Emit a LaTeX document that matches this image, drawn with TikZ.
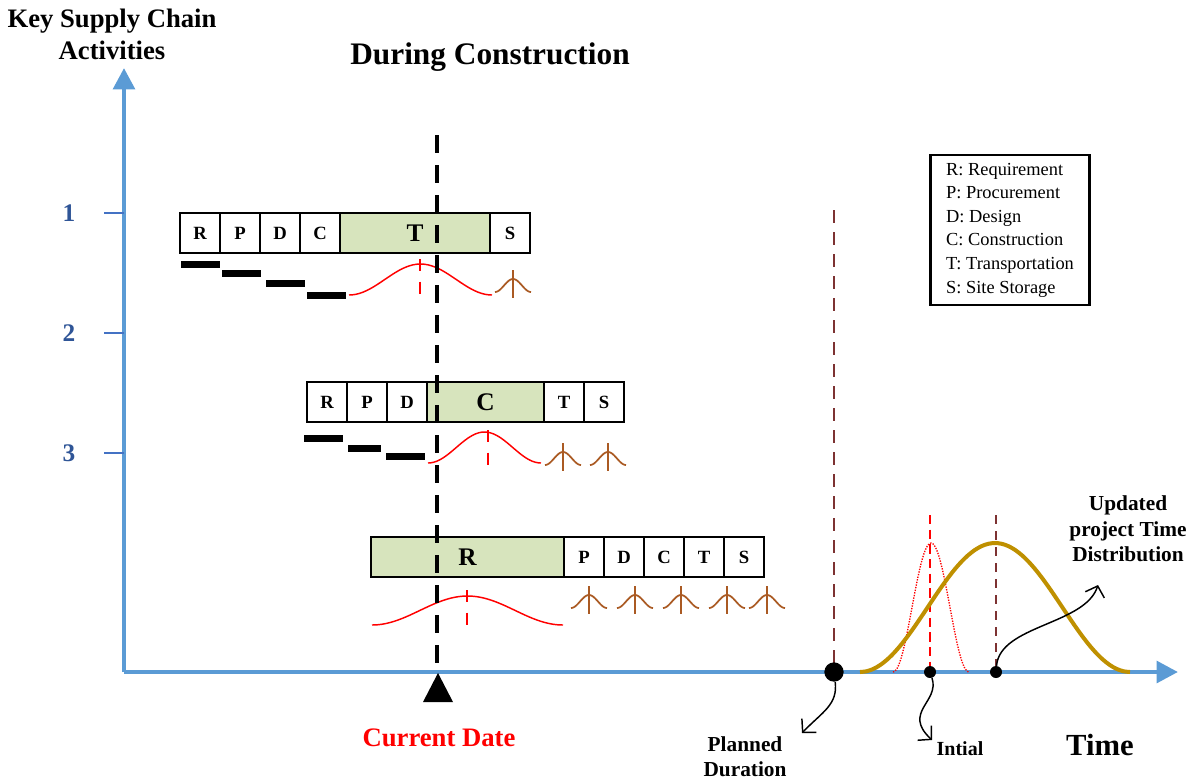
\documentclass[tikz,border=0pt]{standalone}
\usepackage{fontspec}
\setmainfont{Liberation Serif}
\usepackage{tikz}
\usetikzlibrary{positioning,arrows.meta}
\definecolor{axisblue}{RGB}{91,155,213}
\definecolor{tickblue}{RGB}{68,114,196}
\definecolor{numblue}{RGB}{47,85,151}
\definecolor{phasegreen}{RGB}{215,228,189}
\definecolor{hatbrown}{RGB}{170,90,35}
\definecolor{planbrown}{RGB}{125,50,50}
\definecolor{gold}{RGB}{191,144,0}
\tikzset{
  cell/.style     = {shape=rectangle, draw, line width=1.1pt,
                     minimum width=30pt, minimum height=30pt,
                     inner sep=0pt, outer sep=0pt,
                     font=\bfseries\fontsize{14}{16}\selectfont},
  phase/.style    = {cell, fill=phasegreen,
                     font=\bfseries\fontsize{19}{21}\selectfont},
  axis/.style     = {draw=axisblue, line width=3.5pt,
                     -{Triangle[length=16pt,width=16pt]}},
  tick/.style     = {draw=tickblue, line width=1.2pt},
  level/.style    = {text=numblue, font=\bfseries\fontsize{19}{21}\selectfont},
  redbell/.style  = {draw=red, line width=1.1pt},
  reddash/.style  = {draw=red, line width=1.2pt, dash pattern=on 9pt off 8pt},
  hatline/.style  = {draw=hatbrown, line width=1.3pt},
  nowline/.style  = {draw=black, line width=2.6pt, dash pattern=on 13.5pt off 9pt},
  plandash/.style = {draw=planbrown, line width=1.5pt, dash pattern=on 9.5pt off 7pt},
  dot/.style      = {shape=circle, fill=black, inner sep=0pt, minimum size=9pt},
  bigdot/.style   = {dot, minimum size=14.5pt},
  curvy/.style    = {draw, line width=1.1pt, -{Straight Barb[length=7pt,width=15pt]}},
  label/.style    = {align=center, font=\bfseries\fontsize{16}{19}\selectfont},
}
% bell shaped curve: left x, right x, base y, height
\newcommand{\bellplot}[4]{plot[smooth,domain=-180:180,samples=41]
  ({(#1)+((#2)-(#1))*((\x+180)/360)},{(#3)-(#4)*((1+cos(\x))/2)})}
% small brown hat with its centre line
\newcommand{\sbell}[2]{%
  \draw[hatline] \bellplot{#1-18}{#1+18}{#2}{13};
  \draw[hatline] (#1,#2-22) -- (#1,#2+6);}

\begin{document}
\begin{tikzpicture}
  [
    x = 0.75pt, y = -0.75pt,
    every node/.style = {font=\bfseries},
  ]
  \useasboundingbox (0,0) rectangle (1199,783);

  % titles
  \node [align=center, font=\bfseries\fontsize{20}{24}\selectfont] (ytitle) at (112,34)
    {Key Supply Chain\\Activities};
  \node [font=\bfseries\fontsize{23.5}{26}\selectfont] (title) at (490,57) {During Construction};

  % axes
  \coordinate (O) at (124,672);
  \coordinate (ytip) at (124,68);
  \coordinate (xtip) at (1178,672);
  \draw [axis] (O) -- (ytip);
  \draw [axis] (O) -- (xtip);
  \draw [tick] (104,213) -- (124,213);
  \draw [tick] (104,333) -- (124,333);
  \draw [tick] (104,453) -- (124,453);
  \node [level] (lvlone)   at (69,213) {1};
  \node [level] (lvltwo)   at (69,333) {2};
  \node [level] (lvlthree) at (69,453) {3};

  % activity 1
  \node [cell] (oneR) at (200,233) {R};
  \node [cell, right=0pt of oneR] (oneP) {P};
  \node [cell, right=0pt of oneP] (oneD) {D};
  \node [cell, right=0pt of oneD] (oneC) {C};
  \node [phase, minimum width=112.5pt, right=0pt of oneC] (oneT) {T};
  \node [cell, right=0pt of oneT] (oneS) {S};
  \fill (181,261) rectangle (220,268);
  \fill (222,270) rectangle (261,277);
  \fill (266,280) rectangle (305,287);
  \fill (307,292) rectangle (346,299);
  \draw [redbell] \bellplot{349}{492}{295}{31};
  \draw [reddash] (420,259) -- (420,303);
  \sbell{513}{292}

  % activity 2
  \node [cell] (twoR) at (327,402) {R};
  \node [cell, right=0pt of twoR] (twoP) {P};
  \node [cell, right=0pt of twoP] (twoD) {D};
  \node [phase, minimum width=87.75pt, right=0pt of twoD] (twoC) {C};
  \node [cell, right=0pt of twoC] (twoT) {T};
  \node [cell, right=0pt of twoT] (twoS) {S};
  \fill (304,435) rectangle (343,442);
  \fill (348,445) rectangle (381,452);
  \fill (386,453) rectangle (425,460);
  \draw [redbell] \bellplot{428}{541}{463}{31};
  \draw [reddash] (488,430) -- (488,468);
  \sbell{563}{465}
  \sbell{608}{465}

  % activity 3
  \node [phase, minimum width=144.75pt, anchor=west] (threeR) at (371,557) {R};
  \node [cell, right=0pt of threeR] (threeP) {P};
  \node [cell, right=0pt of threeP] (threeD) {D};
  \node [cell, right=0pt of threeD] (threeC) {C};
  \node [cell, right=0pt of threeC] (threeT) {T};
  \node [cell, right=0pt of threeT] (threeS) {S};
  \draw [redbell] \bellplot{372}{563}{625}{29};
  \draw [reddash] (467,590) -- (467,630);
  \sbell{589}{608}
  \sbell{635}{608}
  \sbell{681}{608}
  \sbell{727}{608}
  \sbell{767}{608}

  % current date
  \coordinate (nowTop) at (437,135);
  \coordinate (nowBot) at (437,673);
  \draw [nowline] (nowTop) -- (nowBot);
  \fill (438,673) -- (423,702) -- (453,702) -- cycle;
  \node [text=red, font=\bfseries\fontsize{20}{22}\selectfont] (nowLbl) at (439,738) {Current Date};

  % legend
  \node [draw, line width=2.2pt, minimum width=119pt, minimum height=112.5pt,
         align=left, font=\fontsize{13.8}{17.7}\selectfont] (legend) at (1010,230)
    {R: Requirement\\P: Procurement\\D: Design\\C: Construction\\T: Transportation\\S: Site Storage};

  % project time
  \coordinate (planTop) at (834,210);
  \coordinate (iniTop) at (930,515);
  \coordinate (updTop) at (996,515);
  \draw [plandash] (planTop) -- (834,672);
  \draw [reddash, line width=1pt, dash pattern=on 7pt off 4pt] (iniTop) -- (930,672);
  \draw [plandash, line width=1.2pt, dash pattern=on 7pt off 5pt] (updTop) -- (996,672);
  \draw [red, line width=1pt, densely dotted] \bellplot{893}{969}{672}{129};
  \draw [gold, line width=3pt] \bellplot{860}{1130}{672}{129};
  \node [bigdot] (plan) at (834,672) {};
  \node [dot] (ini) at (930,672) {};
  \node [dot] (upd) at (996,672) {};

  \coordinate (planTip) at (802,733);
  \coordinate (iniTip) at (932,740);
  \coordinate (updTip) at (1098,585);
  \draw [curvy] (plan) .. controls (838,705) and (822,712) .. (planTip);
  \draw [curvy] (ini) .. controls (940,702) and (902,712) .. (iniTip);
  \draw [curvy] (upd) .. controls (1000,625) and (1085,625) .. (updTip);

  \node [label] (planLbl) at (745,757) {Planned\\Duration};
  \node [label, font=\bfseries\fontsize{15}{17}\selectfont] (iniLbl) at (960,749) {Intial};
  \node [label] (updLbl) at (1128,529) {Updated\\project Time\\Distribution};
  \node [font=\bfseries\fontsize{23}{25}\selectfont] (timeLbl) at (1100,745) {Time};
\end{tikzpicture}
\end{document}
